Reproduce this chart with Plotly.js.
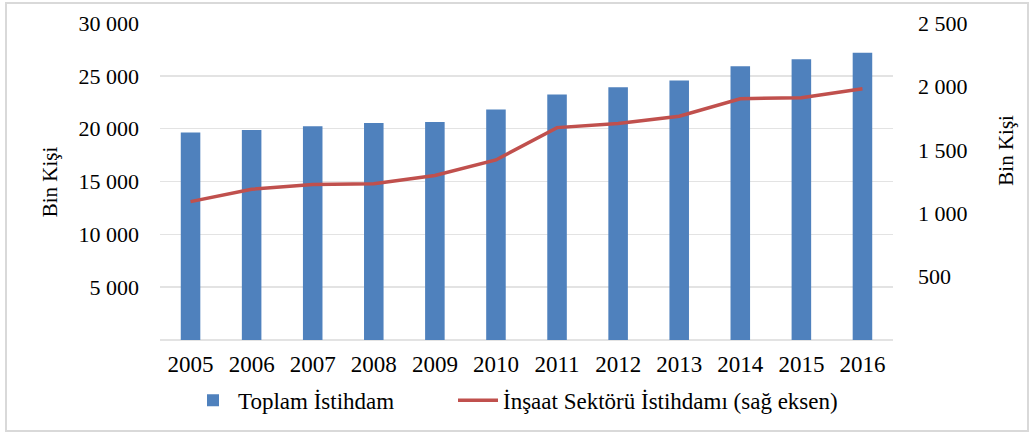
<!DOCTYPE html>
<html>
<head>
<meta charset="utf-8">
<script src="https://cdn.plot.ly/plotly-3.0.1.min.js"></script>
<style>
html,body{margin:0;padding:0;background:#fff;}
#chart{width:1032px;height:434px;}
#frame{position:absolute;left:5px;top:2px;width:1020px;height:426px;border:2px solid #d9d9d9;pointer-events:none;}
</style>
</head>
<body>
<div id="chart"></div>
<div id="frame"></div>
<script>
const years = ['2005','2006','2007','2008','2009','2010','2011','2012','2013','2014','2015','2016'];
const totalEmployment = [19630, 19880, 20230, 20540, 20630, 21820, 23230, 23910, 24570, 25910, 26570, 27190];
const constructionEmployment = [1091, 1189, 1226, 1233, 1298, 1420, 1675, 1708, 1765, 1903, 1911, 1981];
const leftTickVals = [5000, 10000, 15000, 20000, 25000, 30000];
const leftTickText = ['5 000', '10 000', '15 000', '20 000', '25 000', '30 000'];
const rightTickVals = [500, 1000, 1500, 2000, 2500];
const rightTickText = ['500', '1 000', '1 500', '2 000', '2 500'];
const seriesNames = ['Toplam İstihdam', 'İnşaat Sektörü İstihdamı (sağ eksen)'];
const axisTitle = 'Bin Kişi';

const font = 'Liberation Serif, Times New Roman, serif';
const px = v => (v - 160) / 733;

const traces = [
  {
    type: 'bar', x: years, y: totalEmployment, name: seriesNames[0],
    marker: {color: '#4F81BD'}, width: 0.32, yaxis: 'y', legend: 'legend'
  },
  {
    type: 'scatter', mode: 'lines', x: years, y: constructionEmployment, name: seriesNames[1],
    line: {color: '#C0504D', width: 3.5}, yaxis: 'y2', legend: 'legend2'
  }
];

const legendFont = {family: font, size: 23, color: '#000'};
const layout = {
  width: 1032, height: 434,
  margin: {l: 160, r: 139, t: 23, b: 91},
  paper_bgcolor: '#fff', plot_bgcolor: '#fff',
  font: {family: font, size: 22, color: '#000'},
  showlegend: true,
  legend: {orientation: 'h', x: px(188), y: -0.19, xanchor: 'left', yanchor: 'middle',
           itemwidth: 40, font: legendFont, bgcolor: 'rgba(0,0,0,0)'},
  legend2: {orientation: 'h', x: px(453), y: -0.19, xanchor: 'left', yanchor: 'middle',
           itemwidth: 40, font: legendFont, bgcolor: 'rgba(0,0,0,0)'},
  xaxis: {type: 'category', showgrid: false, ticks: '', showline: false, zeroline: false,
          ticklabelstandoff: 8, tickfont: {family: font, size: 23}},
  yaxis: {range: [0, 30000], tickvals: leftTickVals, ticktext: leftTickText,
          showgrid: true, gridcolor: '#e3e3e3', gridwidth: 1.5, zeroline: true, zerolinecolor: '#e3e3e3',
          zerolinewidth: 1.5, ticks: '', ticklabelstandoff: 20, tickfont: {family: font, size: 22}},
  yaxis2: {range: [0, 2500], overlaying: 'y', side: 'right', tickvals: rightTickVals, ticktext: rightTickText,
           showgrid: false, zeroline: false, ticks: '', ticklabelstandoff: 24, tickfont: {family: font, size: 22}},
  annotations: [
    {text: axisTitle, xref: 'paper', yref: 'paper', x: px(50), y: (343.3-184)/320.3,
     xanchor: 'center', yanchor: 'middle', textangle: -90, showarrow: false, font: {family: font, size: 21}},
    {text: axisTitle, xref: 'paper', yref: 'paper', x: px(1006), y: (343.3-152)/320.3,
     xanchor: 'center', yanchor: 'middle', textangle: -90, showarrow: false, font: {family: font, size: 21}}
  ]
};

Plotly.newPlot('chart', traces, layout, {displayModeBar: false, staticPlot: true});
</script>
</body>
</html>
